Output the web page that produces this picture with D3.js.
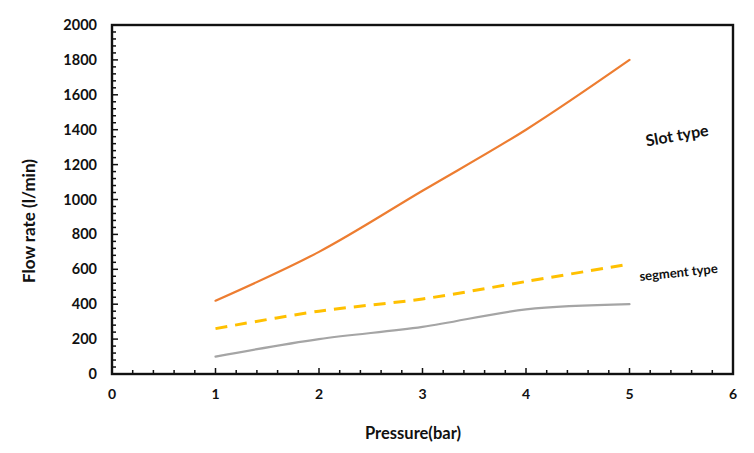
<!DOCTYPE html>
<html>
<head>
<meta charset="utf-8">
<style>
  body { margin: 0; background: #fff; }
  svg text { font-family: Lato, "Open Sans", sans-serif; font-weight: bold; fill: #111; }
</style>
</head>
<body>
<svg id="chart"></svg>
<script src="https://cdn.jsdelivr.net/npm/d3@7"></script>
<script>
// data
var pressure = [1, 2, 3, 4, 5];
var slotType = [420, 700, 1050, 1400, 1800];
var segmentType = [260, 360, 430, 530, 630];
var thirdSeries = [100, 200, 270, 370, 400];
var xTicks = [0, 1, 2, 3, 4, 5, 6];
var yTicks = [0, 200, 400, 600, 800, 1000, 1200, 1400, 1600, 1800, 2000];

var width = 754, height = 453;
var margin = {top: 25, right: 21, bottom: 79, left: 112};

var svg = d3.select("#chart").attr("width", width).attr("height", height);

var x = d3.scaleLinear().domain([0, 6]).range([margin.left, width - margin.right]);
var y = d3.scaleLinear().domain([0, 2000]).range([height - margin.bottom, margin.top]);

// minor ticks
var xMinor = d3.range(0, 6.001, 0.2);
var yMinor = d3.range(0, 2000.1, 40);

svg.append("g")
  .selectAll("line").data(xMinor).enter().append("line")
  .attr("x1", function(d) { return x(d); })
  .attr("x2", function(d) { return x(d); })
  .attr("y1", y(0))
  .attr("y2", function(d) { return Math.abs(d - Math.round(d)) < 1e-6 ? y(0) - 6 : y(0) - 4; })
  .style("stroke", "#111").style("stroke-width", 1.5);

svg.append("g")
  .selectAll("line").data(yMinor).enter().append("line")
  .attr("y1", function(d) { return y(d); })
  .attr("y2", function(d) { return y(d); })
  .attr("x1", x(0))
  .attr("x2", function(d) { return d % 200 === 0 ? x(0) + 6 : x(0) + 4; })
  .style("stroke", "#111").style("stroke-width", 1.5);

// box
svg.append("rect")
  .attr("x", x(0)).attr("y", y(2000))
  .attr("width", x(6) - x(0)).attr("height", y(0) - y(2000))
  .style("fill", "none").style("stroke", "#111").style("stroke-width", 2.4);

// tick labels
svg.append("g").selectAll("text").data(xTicks).enter().append("text")
  .attr("x", function(d) { return x(d); })
  .attr("y", y(0) + 25)
  .attr("text-anchor", "middle")
  .style("font-size", "14px")
  .text(function(d) { return d; });

svg.append("g").selectAll("text").data(yTicks).enter().append("text")
  .attr("x", x(0) - 15)
  .attr("y", function(d) { return y(d) + 5; })
  .attr("text-anchor", "end")
  .style("font-size", "14.5px")
  .text(function(d) { return d; });

// axis titles
svg.append("text")
  .attr("x", 413).attr("y", 439)
  .attr("text-anchor", "middle")
  .style("font-size", "16.5px")
  .text("Pressure(bar)");

svg.append("text")
  .attr("transform", "translate(35,221) rotate(-90)")
  .attr("text-anchor", "middle")
  .style("font-size", "17px")
  .text("Flow rate (l/min)");

// lines (excel-style smoothing)
var line = d3.line()
  .x(function(d, i) { return x(pressure[i]); })
  .y(function(d) { return y(d); })
  .curve(d3.curveCatmullRom.alpha(0.5));

svg.append("path").datum(thirdSeries)
  .attr("d", line)
  .style("fill", "none").style("stroke", "#A5A5A5").style("stroke-width", 2.2)
  .style("stroke-linecap", "round").style("stroke-linejoin", "round");

svg.append("path").datum(segmentType)
  .attr("d", line)
  .style("fill", "none").style("stroke", "#FFC000").style("stroke-width", 3)
  .style("stroke-dasharray", "12,8");

svg.append("path").datum(slotType)
  .attr("d", line)
  .style("fill", "none").style("stroke", "#ED7D31").style("stroke-width", 2.2)
  .style("stroke-linecap", "round").style("stroke-linejoin", "round");

// annotations
svg.append("text")
  .attr("transform", "translate(678,141) rotate(-10)")
  .attr("text-anchor", "middle")
  .style("font-size", "16px")
  .text("Slot type");

svg.append("text")
  .attr("transform", "translate(679,277) rotate(-6)")
  .attr("text-anchor", "middle")
  .style("font-size", "13px")
  .text("segment type");
</script>
</body>
</html>
